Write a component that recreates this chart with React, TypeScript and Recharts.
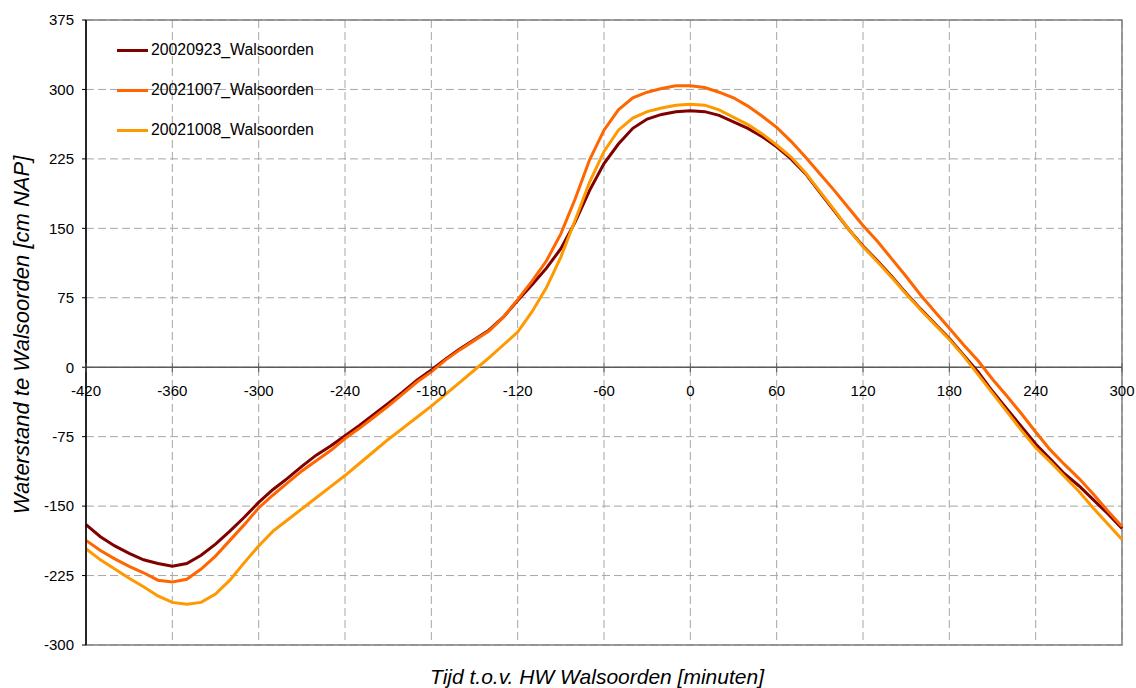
import React from 'react';
import {
  LineChart,
  Line,
  XAxis,
  YAxis,
  CartesianGrid,
  ReferenceLine,
  ReferenceArea,
  ReferenceDot,
  Legend
} from 'recharts';

// minutes relative to high water at Walsoorden
const minutes = [
  -420, -410, -400, -390, -380, -370, -360, -350, -340, -330, -320, -310, -300, -290, -280, -270,
  -260, -250, -240, -230, -220, -210, -200, -190, -180, -170, -160, -150, -140, -130, -120, -110,
  -100, -90, -80, -70, -60, -50, -40, -30, -20, -10, 0, 10, 20, 30, 40, 50, 60, 70, 80, 90, 100,
  110, 120, 130, 140, 150, 160, 170, 180, 190, 200, 210, 220, 230, 240, 250, 260, 270, 280, 290, 300
];

// water level [cm NAP]
const walsoorden20020923 = [
  -170, -183, -193, -201, -208, -212, -215, -212, -203, -191, -177, -162, -146, -132, -120, -107,
  -95, -85, -74, -63, -51, -39, -27, -14, -3, 9, 20, 30, 40, 54, 72, 89,
  107, 128, 157, 191, 220, 241, 258, 268, 273, 276, 277, 276, 272, 265, 258, 249, 238, 225, 209, 189, 169,
  149, 131, 115, 98, 80, 63, 47, 31, 13, -5, -26, -45, -64, -83, -99, -115, -128, -143, -158, -174
];

const walsoorden20021007 = [
  -187, -198, -207, -215, -222, -230, -232, -229, -218, -204, -187, -170, -152, -138, -125, -112,
  -101, -90, -77, -66, -54, -42, -29, -16, -5, 8, 19, 29, 39, 54, 73, 93,
  115, 144, 182, 224, 256, 278, 291, 297, 301, 304, 304, 302, 297, 291, 282, 271, 259, 244, 227, 209, 191,
  172, 153, 136, 117, 98, 78, 60, 42, 24, 7, -13, -31, -50, -70, -89, -105, -120, -137, -155, -172
];

const walsoorden20021008 = [
  -196, -208, -218, -228, -237, -247, -254, -256, -254, -245, -230, -211, -193, -177, -165, -153,
  -141, -129, -117, -104, -91, -78, -66, -54, -42, -29, -16, -3, 10, 24, 38, 60,
  86, 119, 159, 200, 233, 256, 269, 276, 280, 283, 284, 283, 278, 270, 262, 252, 240, 227, 210, 190, 170,
  149, 130, 114, 97, 79, 62, 46, 30, 12, -8, -28, -48, -68, -87, -102, -118, -134, -152, -169, -186
];

const xTicks = [-420, -360, -300, -240, -180, -120, -60, 0, 60, 120, 180, 240, 300];
const yTicks = [-300, -225, -150, -75, 0, 75, 150, 225, 300, 375];

const SERIES = [
  { key: 's20020923', name: '20020923_Walsoorden', color: '#800000', values: walsoorden20020923 },
  { key: 's20021007', name: '20021007_Walsoorden', color: '#FF6600', values: walsoorden20021007 },
  { key: 's20021008', name: '20021008_Walsoorden', color: '#FF9900', values: walsoorden20021008 }
];

const data = minutes.map((t, i) => {
  const row: Record<string, number> = { t };
  SERIES.forEach((s) => {
    row[s.key] = s.values[i];
  });
  return row;
});

const FONT = '"Liberation Sans", Arial, sans-serif';

const renderLegend = () => (
  <div style={{ fontFamily: FONT }}>
    {SERIES.map((s) => (
      <div key={s.key} style={{ display: 'flex', alignItems: 'center', height: 40 }}>
        <span style={{ display: 'inline-block', width: 31, height: 3, background: s.color, marginRight: 3 }} />
        <span style={{ fontSize: 15.8, color: '#000' }}>{s.name}</span>
      </div>
    ))}
  </div>
);

const App = () => {
  return (
    <div style={{ position: 'absolute', left: 0, top: 0, width: 1136, height: 688, background: '#fff', fontFamily: FONT }}>
      <LineChart
        width={1136}
        height={688}
        data={data}
        margin={{ top: 20, right: 14, bottom: 43, left: 0 }}
      >
        <CartesianGrid strokeDasharray="8 4" stroke="#a6a6a6" />
        <ReferenceArea
          x1={-420}
          x2={300}
          y1={-300}
          y2={375}
          fill="none"
          stroke="#808080"
          strokeWidth={1.5}
          fillOpacity={0}
        />
        <XAxis type="number" dataKey="t" domain={[-420, 300]} ticks={xTicks} hide />
        <YAxis
          type="number"
          domain={[-300, 375]}
          ticks={yTicks}
          interval={0}
          width={86}
          axisLine={{ stroke: '#000', strokeWidth: 1.5 }}
          tickLine={{ stroke: '#000' }}
          tickSize={4}
          tickMargin={8}
          tick={{ fontSize: 15, fill: '#000', fontFamily: FONT }}
        />
        <ReferenceLine y={0} stroke="#5a5a5a" strokeWidth={1.5} />
        {SERIES.map((s) => (
          <Line
            key={s.key}
            type="linear"
            dataKey={s.key}
            name={s.name}
            stroke={s.color}
            strokeWidth={3}
            dot={false}
            isAnimationActive={false}
          />
        ))}
        {xTicks.map((t) => (
          <ReferenceDot
            key={t}
            x={t}
            y={0}
            r={0}
            ifOverflow="visible"
            shape={(p: any) => (
              <g>
                <line x1={p.cx} x2={p.cx} y1={p.cy - 4} y2={p.cy + 5} stroke="#5a5a5a" />
                <text x={p.cx} y={p.cy + 29} textAnchor="middle" fontSize={15} fill="#000" fontFamily={FONT}>
                  {t}
                </text>
              </g>
            )}
          />
        ))}
        <Legend
          layout="horizontal"
          verticalAlign="middle"
          align="center"
          content={renderLegend}
          wrapperStyle={{ position: 'absolute', top: 30, left: 117, width: 'auto', height: 'auto' }}
        />
      </LineChart>
      <div
        style={{
          position: 'absolute',
          left: 22,
          top: 335,
          transform: 'translate(-50%, -50%) rotate(-90deg)',
          whiteSpace: 'nowrap',
          fontStyle: 'italic',
          fontSize: 22,
          color: '#000'
        }}
      >
        Waterstand te Walsoorden [cm NAP]
      </div>
      <div
        style={{
          position: 'absolute',
          left: 597,
          top: 677,
          transform: 'translate(-50%, -50%)',
          whiteSpace: 'nowrap',
          fontStyle: 'italic',
          fontSize: 21,
          color: '#000'
        }}
      >
        Tijd t.o.v. HW Walsoorden [minuten]
      </div>
    </div>
  );
};

export default App;
